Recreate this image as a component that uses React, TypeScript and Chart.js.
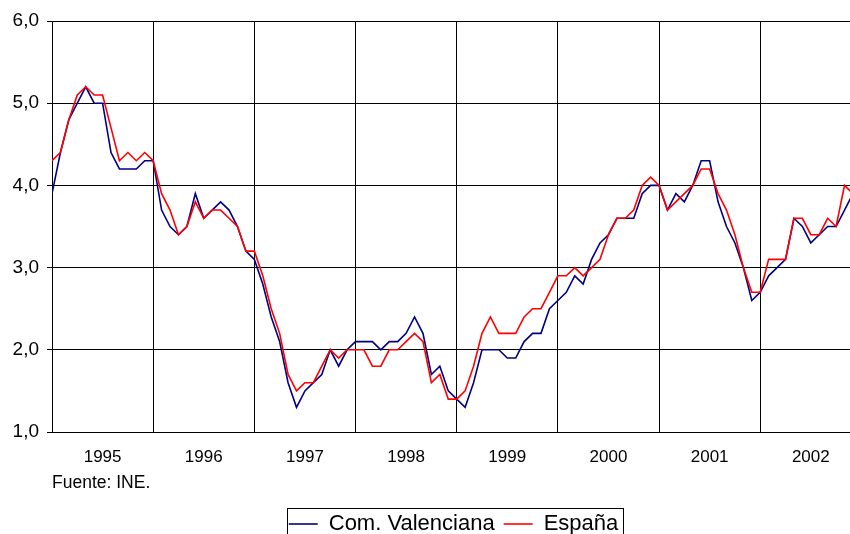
import React, { useEffect, useRef } from "react";
import { Chart, registerables } from "chart.js";

Chart.register(...registerables);

// ---- data (monthly, Jan 1995 – Dec 2002) ----
const yearLabels = ["1995", "1996", "1997", "1998", "1999", "2000", "2001", "2002"];

const valenciana = [
  3.9, 4.4, 4.8, 5.0, 5.2, 5.0, 5.0, 4.4, 4.2, 4.2, 4.2, 4.3,
  4.3, 3.7, 3.5, 3.4, 3.5, 3.9, 3.6, 3.7, 3.8, 3.7, 3.5, 3.2,
  3.1, 2.8, 2.4, 2.1, 1.6, 1.3, 1.5, 1.6, 1.7, 2.0, 1.8, 2.0,
  2.1, 2.1, 2.1, 2.0, 2.1, 2.1, 2.2, 2.4, 2.2, 1.7, 1.8, 1.5,
  1.4, 1.3, 1.6, 2.0, 2.0, 2.0, 1.9, 1.9, 2.1, 2.2, 2.2, 2.5,
  2.6, 2.7, 2.9, 2.8, 3.1, 3.3, 3.4, 3.6, 3.6, 3.6, 3.9, 4.0,
  4.0, 3.7, 3.9, 3.8, 4.0, 4.3, 4.3, 3.8, 3.5, 3.3, 3.0, 2.6,
  2.7, 2.9, 3.0, 3.1, 3.6, 3.5, 3.3, 3.4, 3.5, 3.5, 3.7, 3.9,
];

const espana = [
  4.3, 4.4, 4.8, 5.1, 5.2, 5.1, 5.1, 4.7, 4.3, 4.4, 4.3, 4.4,
  4.3, 3.9, 3.7, 3.4, 3.5, 3.8, 3.6, 3.7, 3.7, 3.6, 3.5, 3.2,
  3.2, 2.9, 2.5, 2.2, 1.7, 1.5, 1.6, 1.6, 1.8, 2.0, 1.9, 2.0,
  2.0, 2.0, 1.8, 1.8, 2.0, 2.0, 2.1, 2.2, 2.1, 1.6, 1.7, 1.4,
  1.4, 1.5, 1.8, 2.2, 2.4, 2.2, 2.2, 2.2, 2.4, 2.5, 2.5, 2.7,
  2.9, 2.9, 3.0, 2.9, 3.0, 3.1, 3.4, 3.6, 3.6, 3.7, 4.0, 4.1,
  4.0, 3.7, 3.8, 3.9, 4.0, 4.2, 4.2, 3.9, 3.7, 3.4, 3.0, 2.7,
  2.7, 3.1, 3.1, 3.1, 3.6, 3.6, 3.4, 3.4, 3.6, 3.5, 4.0, 3.9,
];

const yTicks = [1, 2, 3, 4, 5, 6];
const seriesNames = ["Com. Valenciana", "España"];
const sourceNote = "Fuente: INE.";

// ---- layout / style ----
const W = 907;
const H = 545;
const FONT = "'Liberation Sans', Arial, sans-serif";

const legendBorder = {
  id: "legendBorder",
  afterDraw(chart: any) {
    const lg = chart.legend;
    if (!lg || !lg.legendHitBoxes || !lg.legendHitBoxes.length) return;
    const hb = lg.legendHitBoxes;
    const left = Math.min(...hb.map((h: any) => h.left)) - 2;
    const right = Math.max(...hb.map((h: any) => h.left + h.width)) + 4;
    const top = hb[0].top - 5;
    const bottom = hb[0].top + hb[0].height + 6;
    const ctx = chart.ctx;
    ctx.save();
    ctx.strokeStyle = "#000";
    ctx.lineWidth = 1;
    ctx.strokeRect(
      Math.round(left) + 0.5,
      Math.round(top) + 0.5,
      Math.round(right - left),
      Math.round(bottom - top)
    );
    ctx.restore();
  },
};

export default function App() {
  const ref = useRef<HTMLCanvasElement | null>(null);

  useEffect(() => {
    if (!ref.current) return;
    const chart = new Chart(ref.current, {
      type: "line",
      data: {
        datasets: [
          {
            label: seriesNames[0],
            data: valenciana.map((v, i) => ({ x: i, y: v })),
            borderColor: "#000080",
            backgroundColor: "#000080",
            borderWidth: 1.6,
            pointRadius: 0,
            tension: 0,
            order: 1,
          },
          {
            label: seriesNames[1],
            data: espana.map((v, i) => ({ x: i, y: v })),
            borderColor: "#ff0000",
            backgroundColor: "#ff0000",
            borderWidth: 1.6,
            pointRadius: 0,
            tension: 0,
            order: 0,
          },
        ],
      },
      options: {
        responsive: false,
        animation: false,
        events: [],
        layout: { padding: { top: 21, left: 0, right: 0, bottom: 0 } },
        scales: {
          x: {
            type: "linear",
            min: 0,
            max: 101.41,
            afterBuildTicks: (scale: any) => {
              const t: any[] = [];
              yearLabels.forEach((_, k) => {
                t.push({ value: k * 12 });
                t.push({ value: k * 12 + 6 });
              });
              scale.ticks = t;
            },
            ticks: {
              autoSkip: false,
              maxRotation: 0,
              minRotation: 0,
              padding: 15,
              color: "#000",
              font: { family: FONT, size: 17 },
              callback: (value: any) => {
                const v = Number(value);
                if (v % 12 === 6) return yearLabels[(v - 6) / 12];
                return "";
              },
            },
            grid: {
              color: (c: any) =>
                c.tick && c.tick.value % 12 === 0 ? "#000" : "rgba(0,0,0,0)",
              drawTicks: false,
              lineWidth: 1,
            },
            border: { display: true, color: "#000", width: 1 },
            title: {
              display: true,
              text: sourceNote,
              align: "start",
              color: "#000",
              font: { family: FONT, size: 17.5 },
              padding: { top: 4, bottom: 10 },
            },
            afterFit: (scale: any) => {
              scale.height = 72;
            },
          },
          y: {
            min: 1,
            max: 6,
            afterBuildTicks: (scale: any) => {
              scale.ticks = yTicks.map((v) => ({ value: v }));
            },
            ticks: {
              padding: 8,
              color: "#000",
              font: { family: FONT, size: 19 },
              callback: (v: any) => Number(v).toFixed(1).replace(".", ","),
            },
            grid: { color: "#000", lineWidth: 1, drawTicks: true, tickLength: 5 },
            border: { display: true, color: "#000", width: 1 },
            afterFit: (scale: any) => {
              scale.width = 52;
            },
          },
        },
        plugins: {
          tooltip: { enabled: false },
          legend: {
            position: "bottom",
            labels: {
              usePointStyle: true,
              pointStyle: "line",
              pointStyleWidth: 29,
              padding: 9,
              color: "#000",
              font: { family: FONT, size: 22 },
              sort: (a: any, b: any) => a.datasetIndex - b.datasetIndex,
            },
          },
        },
      } as any,
      plugins: [legendBorder],
    });
    return () => chart.destroy();
  }, []);

  return (
    <div
      style={{
        position: "absolute",
        left: 0,
        top: 0,
        width: 850,
        height: 534,
        overflow: "hidden",
        background: "#fff",
      }}
    >
      <canvas ref={ref} width={W} height={H} style={{ width: W, height: H, display: "block" }} />
    </div>
  );
}
